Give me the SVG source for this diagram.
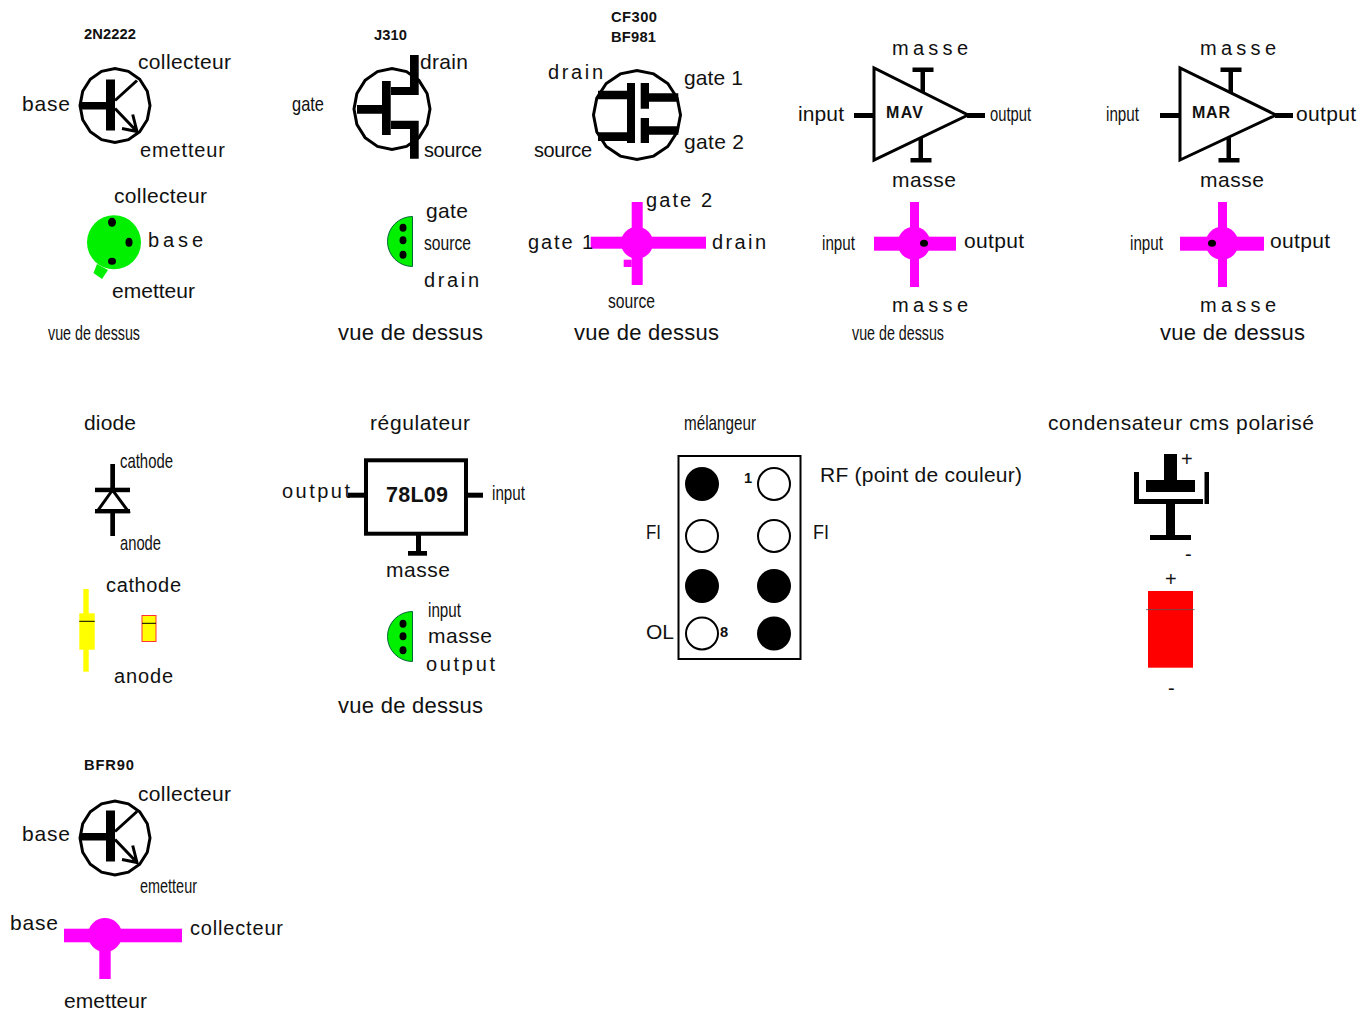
<svg xmlns="http://www.w3.org/2000/svg" width="1370" height="1012" viewBox="0 0 1370 1012">
<style>
text{font-family:"Liberation Sans",Arial,sans-serif;font-size:21px;fill:#111}
.s{font-size:20px}
.v{font-size:22px}
.b{font-weight:bold;font-size:14.700px}
.o{fill:none;stroke:#000;stroke-width:3}
.m{fill:#f0f}
.g{fill:#00f000}
.gh{fill:#00f000;stroke:#063;stroke-width:1}
.d{fill:#000}
.c{fill:#fff;stroke:#000;stroke-width:2}
</style>
<defs>
<polygon id="ring" class="o" points="150,0 147.300,-14.200 139.700,-26.200 128.400,-34.200 115,-37 101.600,-34.200 90.300,-26.200 82.700,-14.200 80,0 82.700,14.200 90.300,26.200 101.600,34.200 115,37 128.400,34.200 139.700,26.200 147.300,14.200"/>
<g id="bjt">
<rect x="80" y="-3.500" width="26" height="7.500"/>
<rect x="106" y="-26" width="9" height="51"/>
<path class="o" d="M115,-5 L137,-25 M115,3 L137,26 M132.700,9 L137,26 L122,23"/>
</g>
<g id="ampT"><rect x="0" y="0" width="21" height="4.500"/><rect x="8" y="4" width="4.500" height="21"/></g>
</defs>
<g id="connectors"></g>

<g id="q2n2222">
<use href="#ring" y="105.500"/>
<use href="#bjt" y="105.500"/>
<text class="b" x="84" y="39" textLength="52">2N2222</text>
<text x="138" y="69" textLength="93">collecteur</text>
<text x="22" y="111" textLength="48">base</text>
<text class="s" x="140" y="157" textLength="85">emetteur</text>
</g>
<g id="q2n2222-top">
<circle class="g" cx="114" cy="242.300" r="27"/>
<polygon class="g" points="97,264 108,270 102,279 93.500,273"/>
<ellipse class="d" cx="112" cy="222.300" rx="4" ry="4.500"/>
<ellipse class="d" cx="129" cy="242.300" rx="3.500" ry="4.500"/>
<ellipse class="d" cx="112" cy="261.300" rx="4" ry="3.500"/>
<text x="114" y="203" textLength="93">collecteur</text>
<text class="s" x="148" y="247" textLength="55">base</text>
<text x="112" y="298" textLength="83">emetteur</text>
<text x="48" y="340" textLength="92" lengthAdjust="spacingAndGlyphs">vue de dessus</text>
</g>

<g id="j310">
<polygon class="o" points="430,109 427.100,124.500 418.900,137.600 406.500,146.400 392,149.500 377.500,146.400 365.100,137.600 356.900,124.500 354,109 356.900,93.500 365.100,80.400 377.500,71.600 392,68.500 406.500,71.600 418.900,80.400 427.100,93.500"/>
<path d="M410,55h8.700v40H391v-8h19z M382,81h8.700v54H382v-21.300h-25V105h25z M391,120.700h27.700v38H410V129H391z"/>
<text class="b" x="374" y="40" textLength="33">J310</text>
<text x="420" y="69" textLength="48">drain</text>
<text x="292" y="111" textLength="32" lengthAdjust="spacingAndGlyphs">gate</text>
<text class="s" x="424" y="157" textLength="58">source</text>
</g>
<g id="j310-top">
<path class="gh" d="M412.500,216.500V266.500A25,25 0 0 1 412.500,216.500z"/>
<ellipse class="d" cx="403" cy="227.700" rx="3.500" ry="4"/>
<ellipse class="d" cx="403" cy="240.300" rx="3.500" ry="4"/>
<ellipse class="d" cx="403" cy="254.700" rx="3.500" ry="4"/>
<text x="426" y="218" textLength="42">gate</text>
<text x="424" y="250" textLength="47" lengthAdjust="spacingAndGlyphs">source</text>
<text class="s" x="424" y="287" textLength="55">drain</text>
<text class="v" x="338" y="340" textLength="145">vue de dessus</text>
</g>

<g id="cf300">
<polygon class="o" points="680.500,115 677.200,132 667.800,146.500 653.600,156.100 637,159.500 620.400,156.100 606.200,146.500 596.800,132 593.500,115 596.800,98 606.200,83.500 620.400,73.900 637,70.500 653.600,73.900 667.800,83.500 677.200,98"/>
<path d="M598,90.700h29V83h8v60h-8v-2H598v-8.700h29V99.300H598z M640.700,83H649v10.300h29.300v8.400H649v7H640.700z M640.700,118H649v8.300h29.300v8.400H649V143H640.700z"/>
<text class="b" x="611" y="22" textLength="46">CF300</text>
<text class="b" x="611" y="42" textLength="45">BF981</text>
<text class="s" x="548" y="79" textLength="55">drain</text>
<text x="684" y="85" textLength="59">gate 1</text>
<text class="s" x="534" y="157" textLength="58">source</text>
<text x="684" y="149" textLength="60">gate 2</text>
</g>
<g id="cf300-top">
<rect class="m" x="590.700" y="236.700" width="115.300" height="12"/>
<rect class="m" x="631.700" y="202" width="11" height="83"/>
<rect class="m" x="623.700" y="259.700" width="8" height="7.300"/>
<circle class="m" cx="637" cy="242.700" r="16"/>
<text class="s" x="646" y="207" textLength="66">gate 2</text>
<text class="s" x="528" y="249" textLength="65">gate 1</text>
<text class="s" x="712" y="249" textLength="54">drain</text>
<text x="608" y="308" textLength="47" lengthAdjust="spacingAndGlyphs">source</text>
<text class="v" x="574" y="340" textLength="145">vue de dessus</text>
</g>

<g id="mav">
<polygon class="o" points="874,68 874,160 968,115"/>
<use href="#ampT" x="912.500" y="67.500"/>
<use href="#ampT" transform="translate(910.500,162.500) scale(1,-1)"/>
<rect x="854" y="113" width="20" height="5"/>
<rect x="967" y="113" width="18" height="5"/>
<text class="b" style="font-size:16px" x="886" y="118" textLength="37">MAV</text>
<text class="s" x="892" y="55" textLength="76">masse</text>
<text x="798" y="121" textLength="46">input</text>
<text x="990" y="121" textLength="41" lengthAdjust="spacingAndGlyphs">output</text>
<text x="892" y="187" textLength="64">masse</text>
</g>
<g id="mav-top">
<rect class="m" x="874" y="236.700" width="82" height="14"/>
<rect class="m" x="910" y="202" width="9" height="85"/>
<circle class="m" cx="914" cy="243.300" r="16.500"/>
<ellipse class="d" cx="924" cy="243.300" rx="4" ry="3.500"/>
<text x="822" y="250" textLength="33" lengthAdjust="spacingAndGlyphs">input</text>
<text x="964" y="248" textLength="60">output</text>
<text class="s" x="892" y="312" textLength="76">masse</text>
<text x="852" y="340" textLength="92" lengthAdjust="spacingAndGlyphs">vue de dessus</text>
</g>

<g id="mar">
<polygon class="o" points="1180,68 1180,160 1276,115"/>
<use href="#ampT" x="1220.500" y="67.500"/>
<use href="#ampT" transform="translate(1218.500,162.500) scale(1,-1)"/>
<rect x="1160" y="113" width="20" height="5"/>
<rect x="1275" y="113" width="18" height="5"/>
<text class="b" style="font-size:16px" x="1192" y="118" textLength="38">MAR</text>
<text class="s" x="1200" y="55" textLength="76">masse</text>
<text x="1106" y="121" textLength="33" lengthAdjust="spacingAndGlyphs">input</text>
<text x="1296" y="121" textLength="60">output</text>
<text x="1200" y="187" textLength="64">masse</text>
</g>
<g id="mar-top">
<rect class="m" x="1180" y="236.700" width="84" height="14"/>
<rect class="m" x="1218" y="202" width="9" height="85"/>
<circle class="m" cx="1222" cy="243.300" r="16.500"/>
<ellipse class="d" cx="1212" cy="243.300" rx="4" ry="3.500"/>
<text x="1130" y="250" textLength="33" lengthAdjust="spacingAndGlyphs">input</text>
<text x="1270" y="248" textLength="60">output</text>
<text class="s" x="1200" y="312" textLength="76">masse</text>
<text class="v" x="1160" y="340" textLength="145">vue de dessus</text>
</g>

<g id="diode">
<rect x="110.300" y="464" width="4.700" height="26"/>
<rect x="95" y="487.700" width="35" height="4.500"/>
<polygon class="o" points="112.500,490 97.500,511 128,511"/>
<rect x="95" y="509" width="35" height="4.400"/>
<rect x="110.300" y="513" width="4.700" height="23"/>
<text x="84" y="430" textLength="52">diode</text>
<text x="120" y="468" textLength="53" lengthAdjust="spacingAndGlyphs">cathode</text>
<text x="120" y="550" textLength="41" lengthAdjust="spacingAndGlyphs">anode</text>
</g>
<g id="diode-top">
<rect x="83.300" y="589" width="5.400" height="82.700" fill="#ff0"/>
<rect x="79.300" y="613.300" width="15.400" height="36.400" fill="#ff0"/>
<rect x="79.300" y="620.800" width="15.400" height="1"/>
<rect x="142" y="615.500" width="14" height="26" fill="#ff0" stroke="#f33" stroke-width="1"/>
<rect x="142" y="622.800" width="14" height="1"/>
<text class="s" x="106" y="592" textLength="75">cathode</text>
<text class="s" x="114" y="683" textLength="59">anode</text>
</g>

<g id="regulateur">
<rect x="366" y="460.300" width="100" height="73.400" fill="none" stroke="#000" stroke-width="4"/>
<rect x="348" y="492.700" width="16" height="5"/>
<rect x="468" y="492.700" width="15" height="5"/>
<rect x="416" y="535" width="5" height="17"/>
<rect x="408" y="551" width="19" height="4.700"/>
<text x="370" y="430" textLength="100">régulateur</text>
<text class="s" x="282" y="498" textLength="68">output</text>
<text class="b" style="font-size:21.500px" x="386" y="502" textLength="62">78L09</text>
<text x="492" y="500" textLength="33" lengthAdjust="spacingAndGlyphs">input</text>
<text x="386" y="577" textLength="64">masse</text>
</g>
<g id="regulateur-top">
<path class="gh" d="M412.500,611.500V661.500A25,25 0 0 1 412.500,611.500z"/>
<ellipse class="d" cx="403" cy="623.700" rx="3.500" ry="4"/>
<ellipse class="d" cx="403" cy="636.300" rx="3.500" ry="4"/>
<ellipse class="d" cx="403" cy="650.300" rx="3.500" ry="4"/>
<text x="428" y="617" textLength="33" lengthAdjust="spacingAndGlyphs">input</text>
<text x="428" y="643" textLength="64">masse</text>
<text class="s" x="426" y="671" textLength="69">output</text>
<text class="v" x="338" y="713" textLength="145">vue de dessus</text>
</g>

<g id="melangeur">
<rect x="678.500" y="456" width="122" height="203" fill="none" stroke="#000" stroke-width="2"/>
<circle class="d" cx="702" cy="484" r="17"/>
<circle class="c" cx="774" cy="484" r="16"/>
<circle class="c" cx="702" cy="536" r="16"/>
<circle class="c" cx="774" cy="536" r="16"/>
<circle class="d" cx="702" cy="586" r="17"/>
<circle class="d" cx="774" cy="586" r="17"/>
<circle class="c" cx="702" cy="633.500" r="16"/>
<circle class="d" cx="774" cy="633.500" r="17"/>
<text x="684" y="430" textLength="72" lengthAdjust="spacingAndGlyphs">mélangeur</text>
<text x="820" y="482" textLength="202">RF (point de couleur)</text>
<text x="646" y="539" textLength="15" lengthAdjust="spacingAndGlyphs">FI</text>
<text x="813" y="539" textLength="16" lengthAdjust="spacingAndGlyphs">FI</text>
<text x="646" y="639" textLength="28">OL</text>
<text class="b" x="744" y="483">1</text>
<text class="b" x="720" y="637">8</text>
</g>

<g id="condensateur">
<rect x="1164" y="454" width="13" height="26"/>
<rect x="1146" y="480" width="49" height="12"/>
<rect x="1134" y="472" width="5" height="32"/>
<rect x="1204.500" y="472" width="4.500" height="32"/>
<rect x="1134" y="499" width="69" height="5"/>
<rect x="1166" y="504" width="9" height="31"/>
<rect x="1150" y="535" width="41" height="5"/>
<text x="1048" y="430" textLength="266">condensateur cms polarisé</text>
<text class="s" x="1181" y="466">+</text>
<text class="s" x="1185" y="561">-</text>
</g>
<g id="condensateur-top">
<rect x="1148" y="591" width="45" height="76.700" fill="#f00"/>
<rect x="1146" y="609.300" width="48.500" height="0.800" fill="#555"/>
<text class="s" x="1165" y="586">+</text>
<text class="s" x="1168" y="695">-</text>
</g>

<g id="bfr90">
<use href="#ring" y="838"/>
<use href="#bjt" y="836.500"/>
<text class="b" x="84" y="770" textLength="50">BFR90</text>
<text x="138" y="801" textLength="93">collecteur</text>
<text x="22" y="841" textLength="48">base</text>
<text x="140" y="893" textLength="57" lengthAdjust="spacingAndGlyphs">emetteur</text>
</g>
<g id="bfr90-top">
<rect class="m" x="64" y="928.700" width="118" height="13.600"/>
<rect class="m" x="99.300" y="935" width="11.400" height="44"/>
<circle class="m" cx="105" cy="935" r="17"/>
<text x="10" y="930" textLength="48">base</text>
<text class="s" x="190" y="935" textLength="93">collecteur</text>
<text x="64" y="1008" textLength="83">emetteur</text>
</g>
</svg>
